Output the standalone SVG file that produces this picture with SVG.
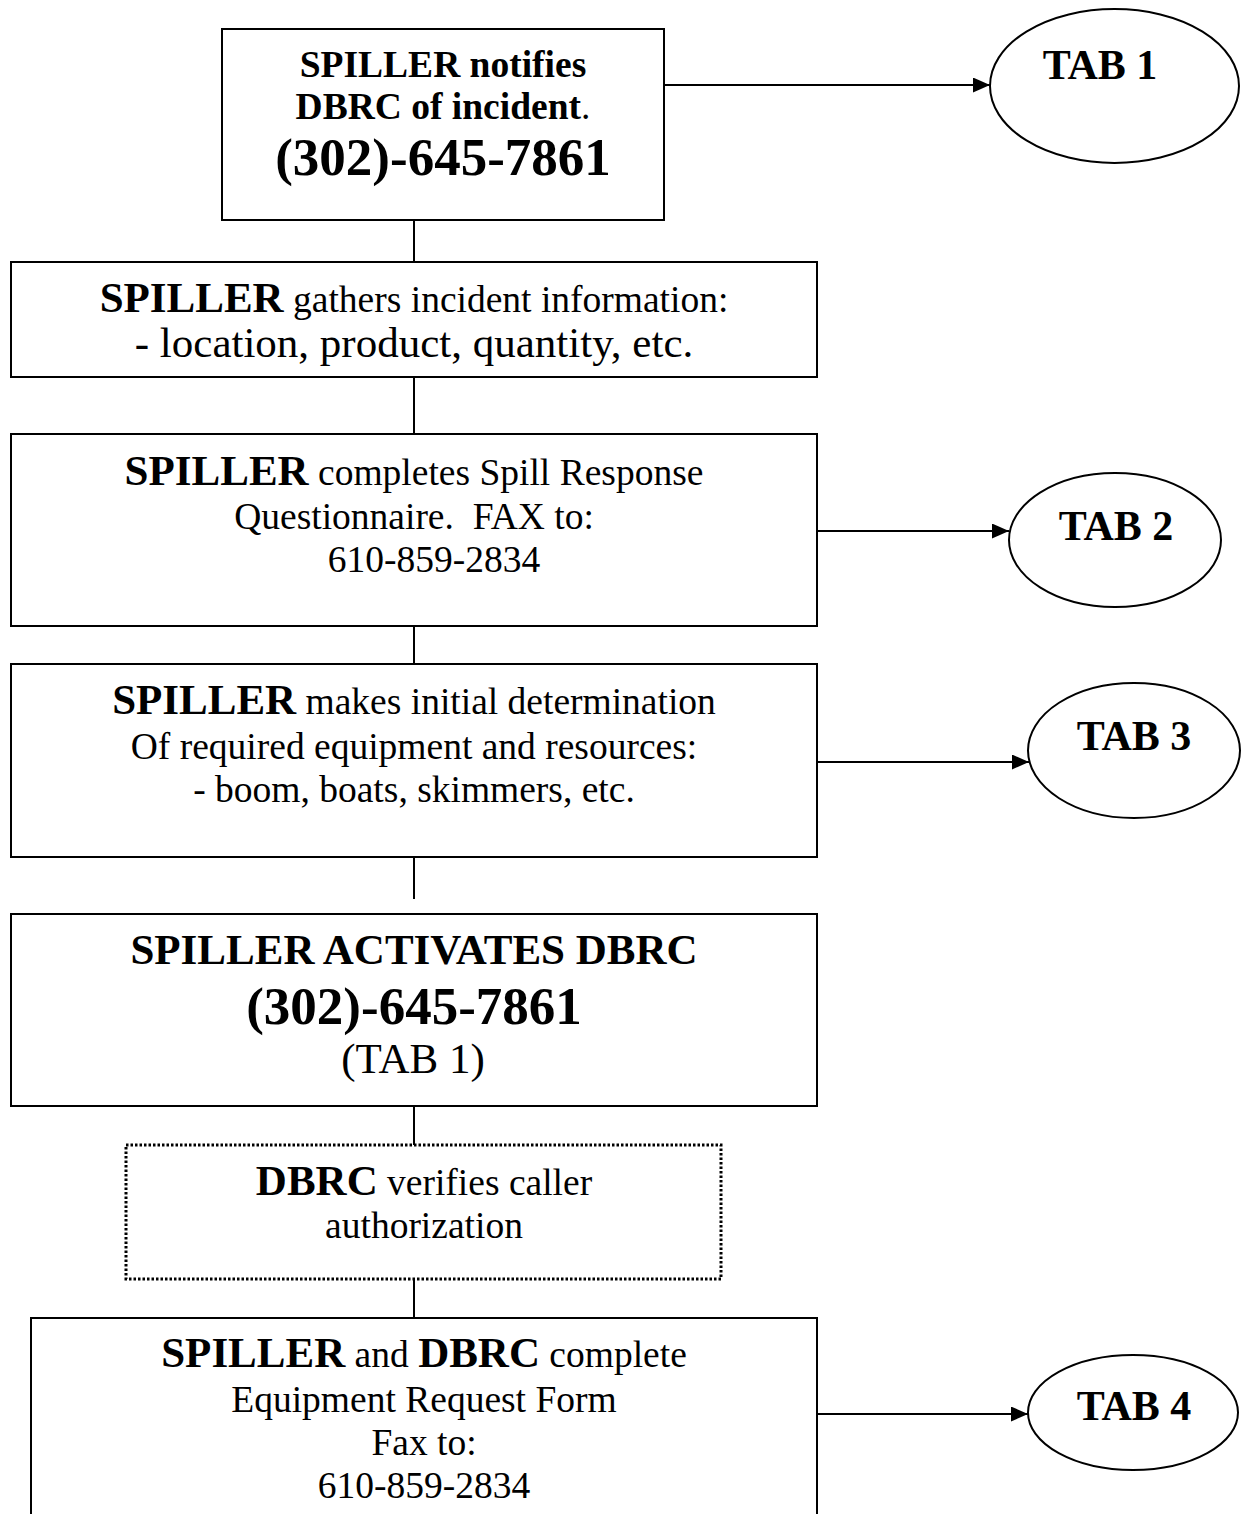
<svg xmlns="http://www.w3.org/2000/svg" width="1246" height="1514" viewBox="0 0 1246 1514">
<style>
  .box { fill: #fff; stroke: #000; stroke-width: 2; }
  .dot { fill: #fff; stroke: #000; stroke-width: 3; stroke-dasharray: 2.5 2; }
  .ell { fill: #fff; stroke: #000; stroke-width: 2; }
  .conn { stroke: #000; stroke-width: 2; fill: none; }
  text { font-family: "Liberation Serif", "Times New Roman", serif; fill: #000; text-anchor: middle; }
  .r14 { font-size: 37.5px; }
  .r16 { font-size: 43px; }
  .b14 { font-size: 37.5px; font-weight: bold; }
  .b16 { font-size: 43px; font-weight: bold; }
  .ph { font-size: 53px; font-weight: bold; }
  .tab { font-size: 42px; font-weight: bold; }
</style>
<defs>
  <marker id="arr" markerUnits="userSpaceOnUse" markerWidth="17" markerHeight="15" refX="17" refY="7.5" orient="auto">
    <path d="M0,0 L17,7.5 L0,15 z" fill="#000"/>
  </marker>
</defs>

<g id="connectors">
  <line class="conn" x1="414" y1="220" x2="414" y2="262"/>
  <line class="conn" x1="414" y1="377" x2="414" y2="434"/>
  <line class="conn" x1="414" y1="626" x2="414" y2="664"/>
  <line class="conn" x1="414" y1="857" x2="414" y2="899"/>
  <line class="conn" x1="414" y1="1106" x2="414" y2="1145"/>
  <line class="conn" x1="414" y1="1279" x2="414" y2="1318"/>
  <line class="conn" x1="664" y1="85" x2="990" y2="85" marker-end="url(#arr)"/>
  <line class="conn" x1="817" y1="531" x2="1009" y2="531" marker-end="url(#arr)"/>
  <line class="conn" x1="817" y1="762" x2="1029" y2="762" marker-end="url(#arr)"/>
  <line class="conn" x1="817" y1="1414" x2="1028" y2="1414" marker-end="url(#arr)"/>
</g>

<g id="box1">
  <rect class="box" x="222" y="29" width="442" height="191"/>
  <text x="443" y="77" class="b14">SPILLER notifies</text>
  <text x="443" y="119" class="b14">DBRC of incident<tspan font-weight="normal">.</tspan></text>
  <text x="443" y="175" class="ph">(302)-645-7861</text>
</g>

<g id="box2">
  <rect class="box" x="11" y="262" width="806" height="115"/>
  <text x="414" y="312" class="r14"><tspan class="b16">SPILLER</tspan> gathers incident information:</text>
  <text x="414" y="357" class="r16">- location, product, quantity, etc.</text>
</g>

<g id="box3">
  <rect class="box" x="11" y="434" width="806" height="192"/>
  <text x="414" y="485" class="r14"><tspan class="b16">SPILLER</tspan> completes Spill Response</text>
  <text x="414" y="529" class="r14" xml:space="preserve">Questionnaire.  FAX to:</text>
  <text x="434" y="572" class="r14">610-859-2834</text>
</g>

<g id="box4">
  <rect class="box" x="11" y="664" width="806" height="193"/>
  <text x="414" y="714" class="r14"><tspan class="b16">SPILLER</tspan> makes initial determination</text>
  <text x="414" y="759" class="r14">Of required equipment and resources:</text>
  <text x="414" y="802" class="r14">- boom, boats, skimmers, etc.</text>
</g>

<g id="box5">
  <rect class="box" x="11" y="914" width="806" height="192"/>
  <text x="414" y="964" class="b16">SPILLER ACTIVATES DBRC</text>
  <text x="414" y="1024" class="ph">(302)-645-7861</text>
  <text x="413" y="1073" class="r16">(TAB 1)</text>
</g>

<g id="box6">
  <rect class="dot" x="126" y="1145" width="595" height="134"/>
  <text x="424" y="1195" class="r14"><tspan class="b16">DBRC</tspan> verifies caller</text>
  <text x="424" y="1238" class="r14">authorization</text>
</g>

<g id="box7">
  <rect class="box" x="31" y="1318" width="786" height="230"/>
  <text x="424" y="1367" class="r14"><tspan class="b16">SPILLER</tspan> and <tspan class="b16">DBRC</tspan> complete</text>
  <text x="424" y="1412" class="r14">Equipment Request Form</text>
  <text x="424" y="1455" class="r14">Fax to:</text>
  <text x="424" y="1498" class="r14">610-859-2834</text>
</g>

<g id="tab1">
  <ellipse class="ell" cx="1114.5" cy="86" rx="124.5" ry="77"/>
  <text x="1100" y="79" class="tab">TAB 1</text>
</g>
<g id="tab2">
  <ellipse class="ell" cx="1115" cy="540" rx="106" ry="67"/>
  <text x="1116" y="540" class="tab">TAB 2</text>
</g>
<g id="tab3">
  <ellipse class="ell" cx="1134" cy="750.5" rx="106" ry="67.5"/>
  <text x="1134" y="750" class="tab">TAB 3</text>
</g>
<g id="tab4">
  <ellipse class="ell" cx="1133" cy="1412.5" rx="105" ry="57.5"/>
  <text x="1134" y="1420" class="tab">TAB 4</text>
</g>
</svg>
